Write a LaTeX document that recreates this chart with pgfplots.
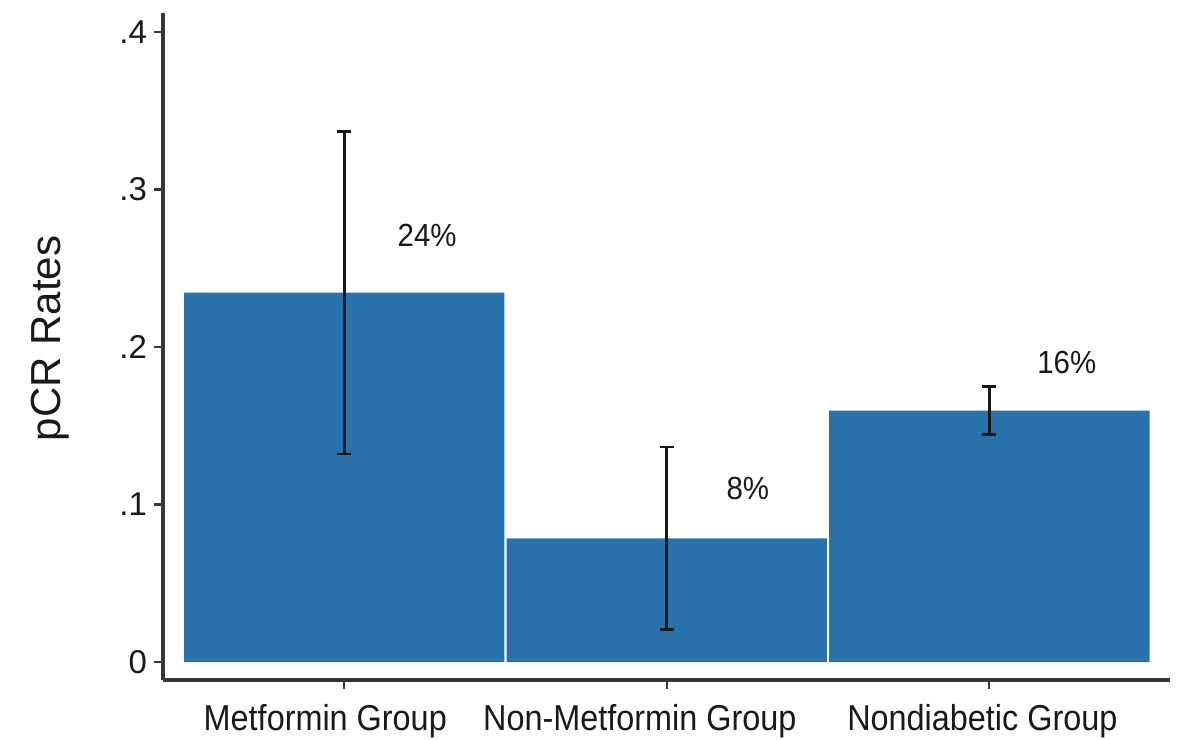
\documentclass[border=0pt]{standalone}
\usepackage{fontspec}
\setmainfont{Liberation Sans}
\newfontfamily\cond[FakeStretch=0.9]{Liberation Sans}
\newfontfamily\condb[FakeStretch=0.92]{Liberation Sans}
\usepackage{pgfplots}
\pgfplotsset{compat=1.18}
\definecolor{barblue}{RGB}{42,114,172}
\definecolor{axgray}{RGB}{55,55,55}
\begin{document}
\begin{tikzpicture}
\begin{axis}[
  name=ax,
  scale only axis,
  width=503.5pt, height=333.5pt,
  xmin=-0.562, xmax=2.56,
  ymin=-0.0114, ymax=0.412,
  axis lines*=left,
  axis line style={axgray, line width=1.7pt},
  ybar, bar width=0.993,
  xtick={0,1,2},
  xticklabels={Metformin Group,Non-Metformin Group,Nondiabetic Group},
  ytick={0,0.1,0.2,0.3,0.4},
  yticklabels={0,.1,.2,.3,.4},
  tick align=outside,
  major tick length=4.5pt,
  tick style={axgray, line width=1.1pt},
  xticklabel style={font=\cond\fontsize{18}{20}\selectfont, text=black!90, yshift=-4pt,
    xshift={(\ticknum==0)*(-9.5pt)+(\ticknum==1)*(-13.5pt)+(\ticknum==2)*(-3.5pt)}},
  yticklabel style={font=\fontsize{16.5}{18}\selectfont, text=black!90},
  ylabel={pCR Rates},
  every axis y label/.style={at={(rel axis cs:0,0.5)}, xshift=-56.5pt, yshift=4pt, rotate=90, anchor=center, font=\fontsize{21}{24}\selectfont, text=black!90},
  clip=false,
]
\addplot[fill=barblue, draw=none,
  error bars/.cd, y dir=both, y explicit,
  error bar style={black!90, line width=1.4pt},
  error mark options={rotate=90, mark size=3.5pt, line width=1.4pt, black!90}]
  coordinates {
    (0,0.2345) +- (0,0.1025)
    (1,0.0785) +- (0,0.058)
    (2,0.1596) +- (0,0.0152)
  };
\node[font=\condb\fontsize{16}{18}\selectfont, text=black!90] at (axis cs:0.257,0.2708) {24\%};
\node[font=\condb\fontsize{16}{18}\selectfont, text=black!90] at (axis cs:1.251,0.110) {8\%};
\node[font=\condb\fontsize{16}{18}\selectfont, text=black!90] at (axis cs:2.24,0.190) {16\%};
\end{axis}
\pgfresetboundingbox
\path[use as bounding box] ([shift={(-81.5pt,-29.5pt)}]ax.south west) rectangle ([shift={(6pt,6.5pt)}]ax.north east);
\end{tikzpicture}
\end{document}
